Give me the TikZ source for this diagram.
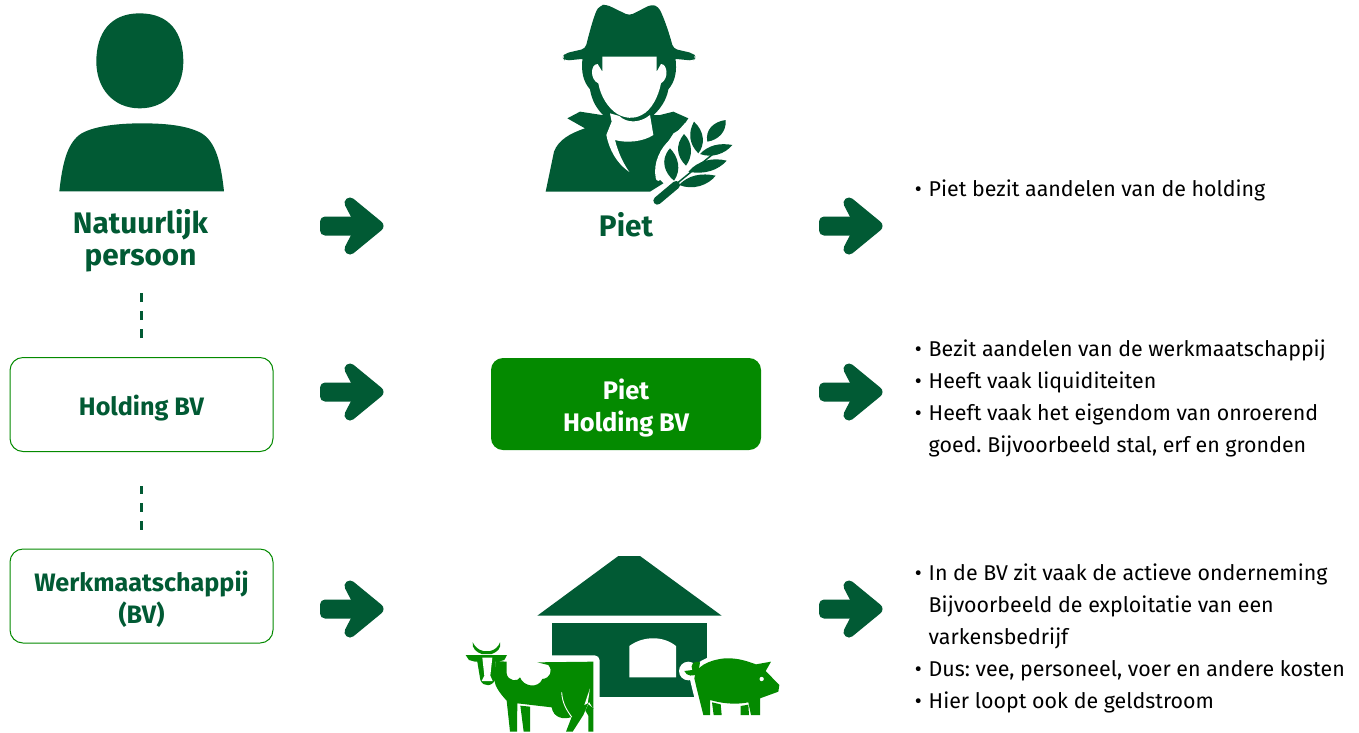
\documentclass[tikz,border=0pt]{standalone}
\usepackage{fontspec}
\setmainfont{Fira Sans}
\frenchspacing
\definecolor{darkgreen}{RGB}{1,90,52}
\definecolor{midgreen}{RGB}{4,138,0}
\tikzset{
  x=1pt,y=-1pt,
  dark/.style={fill=darkgreen,draw=none},
  mid/.style={fill=midgreen,draw=none},
  blank/.style={fill=white,draw=none},
  halo/.style={fill=midgreen,draw=white,line width=#1,line join=round},
  boxed/.style={draw=midgreen,line width=1pt,fill=white,rounded corners=13pt,minimum width=263pt,minimum height=94pt,inner sep=0pt,align=center,text=darkgreen,font=\fontsize{25.2}{32}\selectfont\bfseries},
  solidbox/.style={fill=midgreen,rounded corners=12pt,minimum width=270pt,minimum height=92pt,inner sep=0pt,align=center,text=white,font=\fontsize{25.4}{32}\selectfont\bfseries},
  title/.style={inner sep=0pt,align=center,text=darkgreen,font=\fontsize{29.7}{31.5}\selectfont\bfseries},
  listline/.style={anchor=base west,inner sep=0pt,text=black,font=\fontsize{21.4}{32}\selectfont},
  dashline/.style={draw=darkgreen,line width=2.6pt,dash pattern=on 9pt off 9pt},
  blockarrow/.pic={
    \fill[darkgreen,rounded corners=5pt] (0,-9.5) rectangle (36,9.5);
    \filldraw[darkgreen,line width=11pt,line join=round] (30,-23) -- (58,0) -- (30,23) -- (42,0) -- cycle;
  }
}
\newcommand{\bul}{\llap{•\hspace{7pt}}}
\newcommand{\lowered}[1]{\raisebox{-11.5pt}[0pt][0pt]{#1}}
\begin{document}
\begin{tikzpicture}
\useasboundingbox (0,0) rectangle (1359,732);
\fill[white] (0,0) rectangle (1359,732);
% person
\begin{scope}[x=0.33333pt,y=-0.33333pt]
\fill[dark] (419,40) .. controls (510,40) and (550,100) .. (550,185) .. controls (550,265) and (500,325) .. (419,325) .. controls (340,325) and (289,265) .. (289,185) .. controls (289,100) and (330,40) .. (419,40) -- cycle;
\fill[dark] (178,574) .. controls (188,480) and (205,425) .. (245,400) .. controls (290,375) and (370,370) .. (425,370) .. controls (490,370) and (560,375) .. (605,400) .. controls (645,425) and (662,480) .. (672,574) -- cycle;
\end{scope}
% farmer
\begin{scope}[shift={(530,0)},x=0.33333pt,y=-0.33333pt]
\fill[dark,rounded corners=4pt] (97,172) -- (105,160) -- (166,146) .. controls (180,90) and (195,35) .. (212,16) -- (228,13) -- (298,47) -- (365,13) -- (385,20) .. controls (400,50) and (415,90) .. (430,146) -- (490,160) -- (498,172) -- (490,182) -- (430,176) -- (165,176) -- (105,182) -- cycle;
\fill[dark] (158,172) .. controls (152,215) and (160,245) .. (180,268) .. controls (185,300) and (200,330) .. (230,355) -- (360,355) .. controls (390,330) and (410,300) .. (415,268) .. controls (435,245) and (442,215) .. (436,172) -- cycle;
\fill[dark] (47,575) -- (72,455) .. controls (85,420) and (120,400) .. (165,385) -- (112,355) -- (150,335) -- (215,345) -- (390,345) -- (430,335) -- (475,355) -- (455,385) -- (430,400) -- (385,470) -- (380,530) -- (400,550) -- (360,575) -- cycle;
\fill[blank] (217,170) -- (380,170) -- (380,215) -- (393,192) .. controls (412,192) and (418,235) .. (393,250) .. controls (385,290) and (365,330) .. (335,345) .. controls (310,358) and (285,355) .. (262,342) .. controls (235,325) and (212,290) .. (205,250) .. controls (180,240) and (180,192) .. (203,192) -- (217,215) -- cycle;
\fill[blank] (240,340) -- (268,348) .. controls (290,370) and (330,370) .. (360,345) -- (370,405) .. controls (340,425) and (290,430) .. (255,420) .. controls (265,460) and (280,490) .. (298,516) .. controls (260,490) and (238,450) .. (229,405) -- (245,365) -- cycle;
% plant
\draw[white,line width=5pt,line cap=round] (385,535) .. controls (375,490) and (400,445) .. (425,425) -- (470,375);
\draw[white,line width=13pt] (375,610) -- (445,548);
\fill[dark] (420,445) .. controls (445,470) and (455,510) .. (432,542) .. controls (405,520) and (388,480) .. (420,445) -- cycle;
\fill[dark] (462,402) .. controls (490,430) and (488,470) .. (468,497) .. controls (440,470) and (435,435) .. (462,402) -- cycle;
\fill[dark] (492,365) .. controls (525,395) and (525,435) .. (505,460) .. controls (475,430) and (475,395) .. (492,365) -- cycle;
\fill[dark] (587,360) .. controls (590,395) and (565,420) .. (532,425) .. controls (525,390) and (550,365) .. (587,360) -- cycle;
\fill[dark] (607,435) .. controls (585,462) and (545,475) .. (510,462) .. controls (535,435) and (570,428) .. (607,435) -- cycle;
\fill[dark] (590,482) .. controls (565,510) and (525,525) .. (475,515) .. controls (505,480) and (550,472) .. (590,482) -- cycle;
\fill[dark] (557,527) .. controls (535,555) and (490,572) .. (447,555) .. controls (475,525) and (515,518) .. (557,527) -- cycle;
\draw[darkgreen,line width=8pt,line cap=round] (382,602) -- (438,555);
\draw[darkgreen,line width=1.5pt] (435,555) -- (570,445);
\end{scope}
% barn and animals
\begin{scope}[shift={(455,545)},x=0.33333pt,y=-0.33333pt]
\fill[dark] (247,212) -- (490,33) -- (555,33) -- (800,212) -- cycle;
\fill[dark] (290,235) rectangle (757,455);
\fill[blank] (523,397) -- (523,303) .. controls (565,272) and (625,272) .. (663,303) -- (663,397) -- cycle;
% cow
\fill[blank,rounded corners=5pt] (270,331) -- (434,331) -- (434,470) -- (415,470) -- (415,561) -- (270,561) -- cycle;
\fill[mid] (122,348) -- (155,350) -- (155,385) .. controls (157,408) and (190,412) .. (195,397) .. controls (205,425) and (250,432) .. (262,402) .. controls (285,400) and (295,378) .. (280,360) -- (247,352) -- (415,350) -- (415,492) -- (402,470) -- (385,510) -- (353,560) -- (333,560) -- (350,516) .. controls (325,525) and (295,518) .. (290,487) -- (187,475) -- (186,560) -- (165,560) -- (155,467) .. controls (135,445) and (120,425) .. (118,405) -- cycle;
\draw[white,line width=0.9pt] (320,442) .. controls (322,475) and (335,495) .. (350,516);
\fill[blank] (405,430) -- (398,475) -- (388,480) -- cycle;
\fill[mid] (400,478) -- (415,490) -- (415,560) -- (400,560) -- (400,512) -- (391,497) -- cycle;
\fill[mid] (196,482) -- (225,485) -- (225,560) -- (206,560) -- cycle;
\fill[mid] (66,345) -- (76,405) .. controls (85,428) and (115,425) .. (122,400) -- (122,345) -- cycle;
\fill[mid] (32,330) -- (156,330) -- (148,345) -- (130,350) -- (60,350) -- (42,345) -- cycle;
\fill[mid] (53,292) .. controls (50,310) and (65,322) .. (80,327) -- (110,327) .. controls (125,322) and (140,310) .. (135,292) .. controls (130,305) and (120,315) .. (105,318) -- (85,318) .. controls (70,315) and (60,305) .. (53,292) -- cycle;
\fill[blank] (82,338) -- (112,338) -- (106,392) -- (113,408) -- (80,408) -- (88,392) -- cycle;
% pig
\fill[white] (700,378) circle (28);
\path[halo=9pt] (718,400) .. controls (720,365) and (760,345) .. (810,340) .. controls (850,338) and (880,350) .. (903,358) -- (948,350) -- (932,378) -- (973,420) -- (970,440) -- (915,460) -- (915,510) -- (888,510) -- (880,472) .. controls (840,480) and (800,475) .. (765,465) -- (765,510) -- (745,510) -- (725,430) -- cycle;
\fill[mid] (718,400) .. controls (720,365) and (760,345) .. (810,340) .. controls (850,338) and (880,350) .. (903,358) -- (948,350) -- (932,378) -- (973,420) -- (970,440) -- (915,460) -- (915,510) -- (888,510) -- (880,472) .. controls (840,480) and (800,475) .. (765,465) -- (765,510) -- (745,510) -- (725,430) -- cycle;
\fill[mid] (771,472) -- (797,478) -- (800,510) -- (776,510) -- cycle;
\fill[mid] (857,483) -- (880,479) -- (882,510) -- (857,510) -- cycle;
\fill[mid] (735,352) .. controls (715,345) and (705,360) .. (712,375) -- (688,378) .. controls (695,395) and (715,395) .. (730,385) -- cycle;
\fill[blank] (920,402) circle (6.5);
\end{scope}
% labels
\node[title] (nat) at (140.5,240.5) {Natuurlijk\\persoon};
\node[title] (piet) at (626,224.5) {Piet};
\node[boxed] (hold) at (141.5,404.5) {\raisebox{-10.5pt}[0pt][0pt]{Holding BV}};
\node[boxed] (werk) at (141.5,596) {\lowered{Werkmaatschappij}\\\lowered{(BV)}};
\node[solidbox] (pholding) at (626,404) {\lowered{Piet}\\\lowered{Holding BV}};
% dashes
\draw[dashline,shorten <=19pt,shorten >=21pt] (hold.north) -- (hold.north |- nat.south);
\draw[dashline,shorten <=19pt,shorten >=34pt] (werk.north) -- (hold.south);
% arrows
\pic at (320,226) {blockarrow};
\pic at (819,226) {blockarrow};
\pic at (320,392) {blockarrow};
\pic at (819,392) {blockarrow};
\pic at (320,609) {blockarrow};
\pic at (819,609) {blockarrow};
% lists
\node[listline] (l1) at (928.5,196) {\bul Piet bezit aandelen van de holding};
\node[listline] (l2) at (928.5,356) {\bul Bezit aandelen van de werkmaatschappij};
\node[listline] (l3) at (928.5,388) {\bul Heeft vaak liquiditeiten};
\node[listline] (l4) at (928.5,420) {\bul Heeft vaak het eigendom van onroerend};
\node[listline] (l5) at (928.5,452) {goed. Bijvoorbeeld stal, erf en gronden};
\node[listline] (l6) at (928.5,580) {\bul In de BV zit vaak de actieve onderneming};
\node[listline] (l7) at (928.5,612) {Bijvoorbeeld de exploitatie van een};
\node[listline] (l8) at (928.5,644) {varkensbedrijf};
\node[listline] (l9) at (928.5,676) {\bul Dus: vee, personeel, voer en andere kosten};
\node[listline] (l10) at (928.5,708) {\bul Hier loopt ook de geldstroom};
\end{tikzpicture}
\end{document}
